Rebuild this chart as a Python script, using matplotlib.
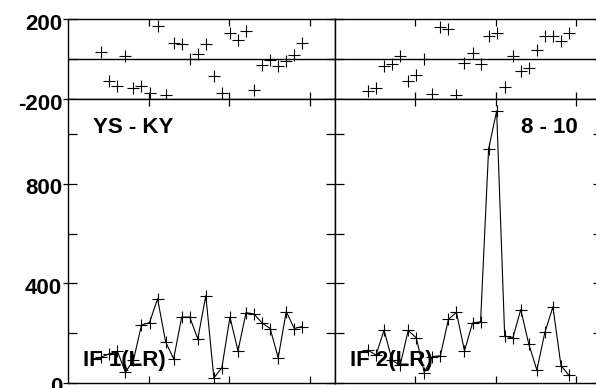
import matplotlib
matplotlib.use("Agg")
import matplotlib.pyplot as plt
from matplotlib.ticker import FixedLocator
from matplotlib.transforms import ScaledTranslation

# time axis shared by all four panels
x = [0.41, 0.51, 0.61, 0.71, 0.81, 0.91, 1.01, 1.11, 1.21, 1.31, 1.41, 1.51, 1.61,
     1.71, 1.81, 1.91, 2.01, 2.11, 2.21, 2.31, 2.41, 2.51, 2.61, 2.71, 2.81, 2.91]

# top panels: residuals
res_left = [38, -107, -132, 17, -142, -132, -167, 168, -178, 80, 75, 0, 25,
            75, -83, -167, 130, 97, 142, -153, -28, -3, -33, -8, 22, 83]
res_right = [-157, -142, -33, -23, 18, -108, -78, 0, -175, 163, 150, -178, -17,
             33, -25, 117, 133, -140, 18, -57, -45, 47, 117, 117, 93, 130]

# bottom panels: flux
if1 = [103, 116, 127, 42, 90, 232, 242, 338, 164, 96, 264, 264, 176,
       350, 19, 61, 264, 128, 282, 276, 240, 218, 100, 286, 218, 226]
if2 = [131, 111, 212, 90, 70, 210, 181, 41, 105, 108, 255, 283, 128,
       240, 245, 940, 1093, 188, 179, 294, 155, 51, 203, 305, 69, 29]

baseline_names = ["YS - KY", "8 - 10"]
if_names = ["IF 1(LR)", "IF 2(LR)"]

plt.rcParams['font.family'] = ['Liberation Sans', 'DejaVu Sans']
plt.rcParams['font.weight'] = 'bold'

fig = plt.figure(figsize=(5.96, 3.88), dpi=100)

W = 267 / 596
lefts = [68.3 / 596, 335 / 596]
top_box = (0.7441, 0.2062)
bot_box = (0.01366, 0.7304)
shift = ScaledTranslation(0, -2.5 / 100, fig.dpi_scale_trans)

for i in range(2):
    ax_t = fig.add_axes([lefts[i], top_box[0], W, top_box[1]])
    ax_b = fig.add_axes([lefts[i], bot_box[0], W, bot_box[1]])
    res = [res_left, res_right][i]
    flux = [if1, if2][i]

    ax_t.plot(x, res, '+', color='black', ms=8.6, mew=0.8, clip_on=False)
    ax_t.axhline(0, color='black', lw=1.0)
    ax_t.set_ylim(-200, 200)

    ax_b.plot(x, flux, '-+', color='black', lw=0.8, ms=8.6, mew=0.8)
    ax_b.set_ylim(0, 1140)

    ax_b.text(0.094 if i == 0 else 0.910, 0.881, baseline_names[i],
              transform=ax_b.transAxes, fontsize=16, fontweight='bold',
              ha='left' if i == 0 else 'right', va='baseline')
    ax_b.text(0.056, 0.059, if_names[i], transform=ax_b.transAxes,
              fontsize=16, fontweight='bold', ha='left', va='baseline')

    for ax, minor, major in [(ax_t, [-200, 0, 200], [-200, 200]),
                             (ax_b, [0, 200, 400, 600, 800, 1000], [0, 400, 800])]:
        ax.set_xlim(0, 3.32)
        ax.xaxis.set_major_locator(FixedLocator([1, 2, 3]))
        ax.tick_params(axis='x', direction='in', length=5, width=0.9,
                       top=True, bottom=True, labelbottom=False)
        ax.yaxis.remove_overlapping_locs = False
        ax.yaxis.set_minor_locator(FixedLocator(minor))
        ax.tick_params(axis='y', which='minor', direction='in', length=6.5,
                       width=0.9, left=True, right=True)
        if i == 0:
            ax.set_yticks(major)
            ax.set_yticklabels([str(v) for v in major])
            ax.tick_params(axis='y', which='major', direction='out', length=3.6,
                           width=0.9, pad=0.8, labelsize=16, right=False)
            for lab in ax.get_yticklabels():
                lab.set_transform(lab.get_transform() + shift)
        else:
            ax.set_yticks([])
        for s in ax.spines.values():
            s.set_linewidth(1.0)

fig.savefig("out.png", dpi=100)
